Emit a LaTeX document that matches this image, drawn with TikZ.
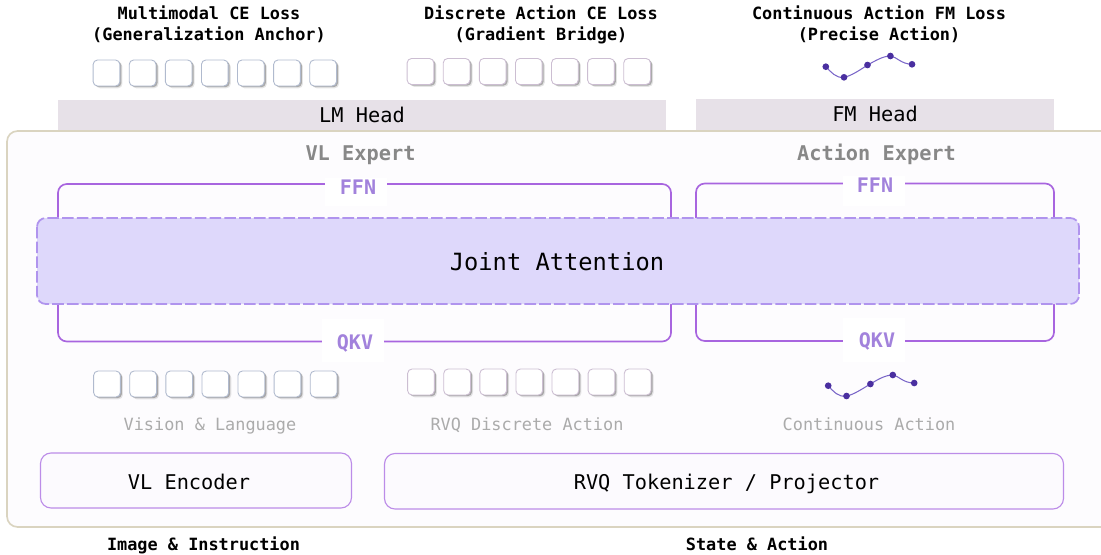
\documentclass[tikz,border=0pt]{standalone}
\usepackage{xcolor}
\usepackage{fontspec}
\setmainfont{DejaVu Sans Mono}
\usepackage{tikz}
\definecolor{panelfill}{RGB}{253,252,254}
\definecolor{panelline}{RGB}{218,212,192}
\definecolor{headfill}{RGB}{231,225,232}
\definecolor{bracket}{RGB}{168,101,223}
\definecolor{jointfill}{RGB}{222,216,251}
\definecolor{jointline}{RGB}{176,148,238}
\definecolor{blocklabel}{RGB}{162,130,220}
\definecolor{expertgray}{RGB}{136,136,136}
\definecolor{captiongray}{RGB}{171,171,171}
\definecolor{encoderline}{RGB}{188,140,232}
\definecolor{encoderfill}{RGB}{252,250,254}
\definecolor{tokenblue}{RGB}{176,186,206}
\definecolor{tokenmauve}{RGB}{204,190,210}
\definecolor{curveline}{RGB}{122,102,200}
\definecolor{curvedot}{RGB}{74,47,160}
\usetikzlibrary{shadows}
\tikzset{
    losstext/.style={inner sep=0pt, anchor=base, font=\fontsize{9.6}{12}\selectfont\bfseries},
    headtext/.style={inner sep=0pt, anchor=base, font=\fontsize{11.55}{14}\selectfont},
    experttext/.style={inner sep=0pt, anchor=base, text=expertgray, font=\fontsize{11.55}{14}\selectfont\bfseries},
    blocktext/.style={inner sep=0pt, anchor=base, text=blocklabel, font=\fontsize{11.4}{14}\selectfont\bfseries},
    captiontext/.style={inner sep=0pt, anchor=base, text=captiongray, font=\fontsize{9.6}{12}\selectfont},
    encoderbox/.style={draw=encoderline, fill=encoderfill, line width=0.65pt, rounded corners=6pt},
    blockline/.style={draw=bracket, line width=0.95pt, rounded corners=5pt},
    token/.style={draw=#1, fill=white, line width=0.5pt, rounded corners=2.5pt, minimum width=15.2pt, minimum height=14.8pt, inner sep=0pt,
        drop shadow={shadow xshift=1.5pt, shadow yshift=-1.3pt, fill=black, opacity=0.10},
        drop shadow={shadow xshift=0.9pt, shadow yshift=-0.7pt, fill=black, opacity=0.26}},
    curvepoint/.style={circle, fill=curvedot, minimum size=3.8pt, inner sep=0pt}
}

\begin{document}
\begin{tikzpicture}[x=0.02cm, y=-0.02cm]
    \useasboundingbox (0,0) rectangle (1101,554);

    % Loss titles
    \node[losstext] (lossce) at (209,19.8) {Multimodal CE Loss};
    \node[losstext] (lossceb) at (209,40.8) {(Generalization Anchor)};
    \node[losstext] (lossbridge) at (541,19.8) {Discrete Action CE Loss};
    \node[losstext] (lossbridgeb) at (541,40.8) {(Gradient Bridge)};
    \node[losstext] (lossfm) at (879,19.8) {Continuous Action FM Loss};
    \node[losstext] (lossfmb) at (879,40.8) {(Precise Action)};

    % Heads
    \fill[headfill] (58,100) rectangle (666,130);
    \fill[headfill] (696,99) rectangle (1054,130);
    \node[headtext] (lmhead) at (362,122.3) {LM Head};
    \node[headtext] (fmhead) at (875,121.3) {FM Head};

    % Panel runs off the right edge
    \draw[panelline, fill=panelfill, line width=0.95pt, rounded corners=6pt] (1101,131) -- (7,131) -- (7,527) -- (1101,527);
    \node[experttext] (vlexpert) at (360.5,160.5) {VL Expert};
    \node[experttext] (actionexpert) at (876.5,160.5) {Action Expert};

    % Token rows
    \foreach \i in {0,...,6} {
        \node[token=tokenblue] (lossvl\i) at (106.5+36.1*\i,73) {};
        \node[token=tokenmauve] (lossrvq\i) at (420.5+36.1*\i,71.5) {};
        \node[token=tokenblue] (inputvl\i) at (107+36.1*\i,384) {};
        \node[token=tokenmauve] (inputrvq\i) at (421+36.1*\i,382) {};
    }

    % Blocks with their label gaps
    \draw[blockline] (58,184) rectangle (671,341.5);
    \draw[blockline] (696,183.5) rectangle (1054,341);
    \fill[white] (325,178) rectangle (387,206);
    \fill[white] (843,176) rectangle (905,206);
    \fill[white] (322,319) rectangle (384,362);
    \fill[white] (843,318) rectangle (905,362);
    \node[blocktext] (ffnvl) at (358,194.3) {FFN};
    \node[blocktext] (ffnaction) at (875,192.3) {FFN};
    \node[blocktext] (qkvvl) at (355,349.5) {QKV};
    \node[blocktext] (qkvaction) at (877,347.5) {QKV};

    % Joint attention over both blocks
    \draw[jointline, fill=jointfill, line width=1pt, dash pattern=on 6.6pt off 1.8pt, rounded corners=5pt] (37,218) rectangle (1079,304);
    \node[inner sep=0pt, anchor=base, font=\fontsize{13.5}{16}\selectfont] (joint) at (557,270.5) {Joint Attention};

    % Action curves
    \draw[curveline, line width=0.6pt] (825.8,66.7) .. controls (831,72) and (836,78.5) .. (844,77.3) .. controls (851,76) and (860,70) .. (867.5,65) .. controls (875,61) and (883,56) .. (890.4,56) .. controls (897,57) and (901,64) .. (912,64.3);
    \draw[curveline, line width=0.6pt] (828.2,385.7) .. controls (833,391) and (838,397.5) .. (846.5,396) .. controls (853,395) and (862,389) .. (870.4,384) .. controls (877,380) and (885,375) .. (892.8,375) .. controls (899,376) and (903,383) .. (914.2,383);
    \foreach \px/\py [count=\n] in {825.8/66.7, 844/77.3, 867.5/65, 890.4/56, 912/64.3} {
        \node[curvepoint] (lossdot\n) at (\px,\py) {};
    }
    \foreach \px/\py [count=\n] in {828.2/385.7, 846.5/396, 870.4/384, 892.8/375, 914.2/383} {
        \node[curvepoint] (inputdot\n) at (\px,\py) {};
    }

    % Captions
    \node[captiontext] (capvl) at (210,430) {Vision \& Language};
    \node[captiontext] (caprvq) at (527,430) {RVQ Discrete Action};
    \node[captiontext] (capaction) at (869,430) {Continuous Action};

    % Encoders
    \draw[encoderbox] (40.5,453) rectangle (351.5,508);
    \draw[encoderbox] (384.5,453.5) rectangle (1063.5,509);
    \node[headtext] (vlencoder) at (189,489) {VL Encoder};
    \node[headtext] (tokenizer) at (726.5,489) {RVQ Tokenizer / Projector};

    % Inputs
    \node[losstext] (inputimage) at (203.5,550) {Image \& Instruction};
    \node[losstext] (inputstate) at (757,550) {State \& Action};
\end{tikzpicture}
\end{document}
